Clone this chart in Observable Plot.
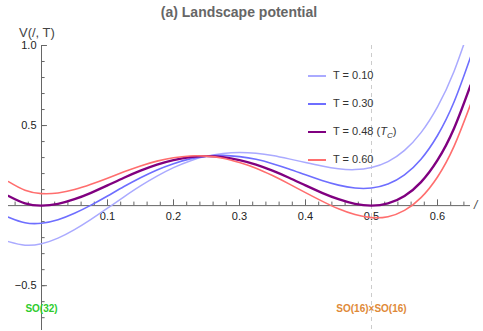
<!DOCTYPE html>
<html>
<head>
<meta charset="utf-8">
<script src="https://cdn.jsdelivr.net/npm/d3@7"></script>
<script src="https://cdn.jsdelivr.net/npm/@observablehq/plot@0.6"></script>
<style>
  html, body { margin: 0; padding: 0; background: #fff; }
  #wrap { position: relative; width: 483px; height: 331px; font-family: "Liberation Sans", Arial, sans-serif; }
  #wrap svg { position: absolute; left: 0; top: 0; }
  .title { position: absolute; left: 0; width: 478px; top: 4px; text-align: center; font-weight: bold; font-size: 14px; color: #666; }
  .ylab { position: absolute; left: 19px; top: 25px; font-size: 13px; color: #444; }
  .xlab { position: absolute; left: 474px; top: 198px; font-size: 12px; font-style: italic; color: #444; }
  .legend { position: absolute; left: 308px; top: 68px; font-size: 11px; color: #333; }
  .legend .row { position: relative; height: 28px; }
  .legend .sw { position: absolute; left: 0; width: 18px; }
  .legend .lbl { position: absolute; left: 25px; top: 0px; line-height: 15px; white-space: nowrap; }
</style>
</head>
<body>
<div id="wrap"></div>
<script>
// ---- data ----
const phi = [-0.05, -0.025, 0, 0.025, 0.05, 0.075, 0.1, 0.125, 0.15, 0.175, 0.2, 0.225, 0.25,
  0.275, 0.3, 0.325, 0.35, 0.375, 0.4, 0.425, 0.45, 0.475, 0.5, 0.525, 0.55, 0.575, 0.6, 0.625, 0.65];
const vT010 = [-0.225, -0.247, -0.238, -0.203, -0.150, -0.086, -0.016, 0.055, 0.123, 0.184, 0.237, 0.279, 0.309,
  0.326, 0.332, 0.327, 0.313, 0.292, 0.269, 0.247, 0.230, 0.225, 0.238, 0.275, 0.345, 0.456, 0.617, 0.838, 1.13];
const vT030 = [-0.072, -0.107, -0.110, -0.088, -0.048, 0.003, 0.060, 0.119, 0.174, 0.223, 0.262, 0.292, 0.309,
  0.314, 0.306, 0.289, 0.262, 0.229, 0.192, 0.157, 0.128, 0.110, 0.110, 0.135, 0.192, 0.290, 0.438, 0.647, 0.927];
const vT048 = [0.060, 0.014, 0.000, 0.011, 0.040, 0.080, 0.126, 0.174, 0.218, 0.256, 0.284, 0.303, 0.309,
  0.303, 0.284, 0.256, 0.218, 0.174, 0.126, 0.080, 0.040, 0.011, 0.000, 0.014, 0.060, 0.147, 0.284, 0.482, 0.751];
const vT060 = [0.150, 0.096, 0.075, 0.079, 0.100, 0.133, 0.171, 0.211, 0.248, 0.278, 0.299, 0.310, 0.309,
  0.296, 0.269, 0.234, 0.188, 0.136, 0.081, 0.028, -0.020, -0.056, -0.075, -0.069, -0.030, 0.050, 0.179, 0.370, 0.631];

const seriesNames = ["T = 0.10", "T = 0.30", "T = 0.48 (T_C)", "T = 0.60"];
const seriesColors = ["#aaaaff", "#6e6eff", "#800080", "#ff6e6e"];
const seriesWidths = [1.5, 1.6, 2.4, 1.6];
const seriesValues = [vT010, vT030, vT048, vT060];

const xMajor = [0.1, 0.2, 0.3, 0.4, 0.5, 0.6];
const xMinor = d3.range(-0.04, 0.641, 0.02).map(v => +v.toFixed(2));
const yMajor = [-0.5, 0.5, 1.0];
const yMinor = d3.range(-0.7, 1.001, 0.1).map(v => +v.toFixed(1));

const vacuumPhi = [0, 0.5];
const vacuumLabels = ["SO(32)", "SO(16)×SO(16)"];
const vacuumColors = ["#2ecc2e", "#e08a38"];
const vacuumLabelV = -0.645;

// ---- build rows ----
const rows = [];
seriesValues.forEach((vals, i) => vals.forEach((v, j) => rows.push({phi: phi[j], V: v, s: i})));
const vac = vacuumPhi.map((p, i) => ({phi: p, label: vacuumLabels[i], color: vacuumColors[i]}));

const fmt = d => (d < 0 ? "\u2212" + Math.abs(d).toFixed(1) : d.toFixed(1));

const chart = Plot.plot({
  width: 483,
  height: 331,
  marginLeft: 8,
  marginRight: 13,
  marginTop: 45,
  marginBottom: 1,
  style: {fontFamily: "'Liberation Sans', Arial, sans-serif", background: "transparent", overflow: "visible"},
  x: {domain: [-0.05, 0.65], axis: null},
  y: {domain: [-0.78, 1.0], axis: null},
  marks: [
    Plot.ruleX([0.5], {stroke: "#cccccc", strokeDasharray: "4,4", strokeWidth: 1}),
    // axes through origin
    Plot.ruleY([0], {stroke: "#666", strokeWidth: 1}),
    Plot.ruleX([0], {stroke: "#666", strokeWidth: 1}),
    Plot.ruleX(xMinor, {x: d => d, y1: 0, y2: 0.022, stroke: "#666"}),
    Plot.ruleX(xMajor, {x: d => d, y1: 0, y2: 0.036, stroke: "#666"}),
    Plot.ruleY(yMinor, {y: d => d, x1: 0, x2: 0.0055, stroke: "#666"}),
    Plot.ruleY(yMajor, {y: d => d, x1: 0, x2: 0.009, stroke: "#666"}),
    Plot.text(xMajor, {x: d => d, y: 0, dy: 11, text: fmt, fontSize: 11, fill: "#222"}),
    Plot.text(yMajor, {x: 0, y: d => d, dx: -5, textAnchor: "end", text: fmt, fontSize: 11, fill: "#222"}),
    // curves
    ...seriesValues.map((_, i) => Plot.line(rows.filter(r => r.s === i), {
      x: "phi", y: "V", stroke: seriesColors[i], strokeWidth: seriesWidths[i], curve: "natural", clip: true
    })),
    Plot.text(vac, {x: "phi", y: vacuumLabelV, text: "label", fill: "color", fontWeight: "bold", fontSize: 10})
  ]
});

const wrap = document.getElementById("wrap");
wrap.appendChild(chart);

const title = document.createElement("div");
title.className = "title";
title.textContent = "(a) Landscape potential";
wrap.appendChild(title);

const ylab = document.createElement("div");
ylab.className = "ylab";
ylab.textContent = "V(/, T)";
wrap.appendChild(ylab);

const xlab = document.createElement("div");
xlab.className = "xlab";
xlab.textContent = "/";
wrap.appendChild(xlab);

const legend = document.createElement("div");
legend.className = "legend";
seriesNames.forEach((name, i) => {
  const row = document.createElement("div");
  row.className = "row";
  const sw = document.createElement("div");
  sw.className = "sw";
  sw.style.height = seriesWidths[i] + "px";
  sw.style.top = (8 - seriesWidths[i] / 2) + "px";
  sw.style.background = seriesColors[i];
  row.appendChild(sw);
  const lbl = document.createElement("div");
  lbl.className = "lbl";
  if (name.includes("T_C")) {
    lbl.innerHTML = name.replace("(T_C)", "(<i>T</i><sub style='font-size:8px'><i>C</i></sub>)");
  } else {
    lbl.textContent = name;
  }
  row.appendChild(lbl);
  legend.appendChild(row);
});
wrap.appendChild(legend);
</script>
</body>
</html>
